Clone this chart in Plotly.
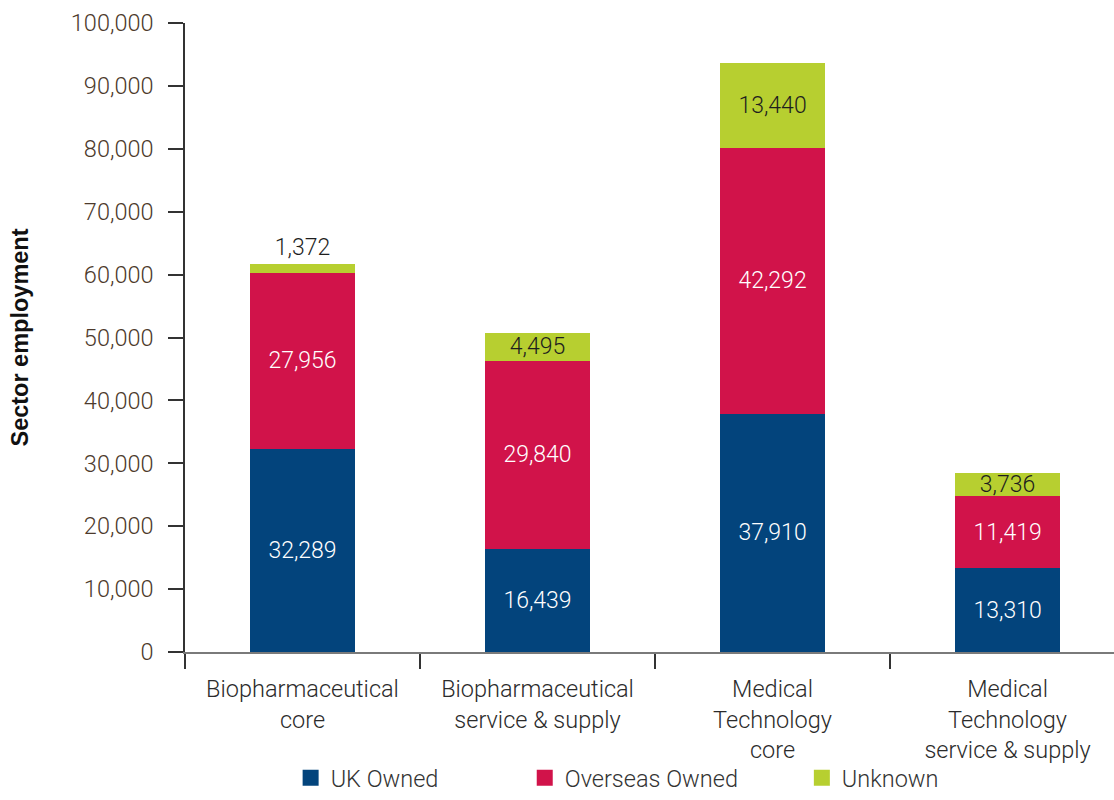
import plotly.graph_objects as go

# Sector employment by ownership
categories = [
    "Biopharmaceutical<br>core",
    "Biopharmaceutical<br>service & supply",
    "Medical<br>Technology<br>core",
    "Medical<br>Technology<br>service & supply",
]
uk_owned = [32289, 16439, 37910, 13310]
overseas_owned = [27956, 29840, 42292, 11419]
unknown = [1372, 4495, 13440, 3736]

series_names = ["UK Owned", "Overseas Owned", "Unknown"]
y_tick_values = [0, 10000, 20000, 30000, 40000, 50000, 60000, 70000, 80000, 90000, 100000]

BLUE = "#03447c"
RED = "#d1134a"
GREEN = "#b7cf30"
FONT = "Roboto"
LABEL_SIZE = 23.5
DATA_SIZE = 23

x_pos = list(range(len(categories)))

fig = go.Figure()


def add_bar(values, name, color, text_color, positions):
    fig.add_trace(go.Bar(
        x=x_pos, y=values, name=name,
        marker=dict(color=color, line=dict(width=0)),
        width=0.45,
        text=values,
        texttemplate="%{y:,}",
        textposition=positions,
        insidetextanchor="middle",
        textfont=dict(family=FONT, size=DATA_SIZE, color=text_color, weight=300),
        outsidetextfont=dict(family=FONT, size=DATA_SIZE, color="#1e1e1e", weight=300),
        cliponaxis=False,
        showlegend=False,
        hoverinfo="skip",
    ))


add_bar(uk_owned, series_names[0], BLUE, "white", "inside")
add_bar(overseas_owned, series_names[1], RED, "white", "inside")
add_bar(unknown, series_names[2], GREEN, "#1e1e1e",
        ["outside", "inside", "inside", "inside"])

# Legend entries, each in its own legend box for placement
legend_x = [0.1137, 0.3657, 0.664]
for i, (name, color) in enumerate(zip(series_names, [BLUE, RED, GREEN])):
    fig.add_trace(go.Scatter(
        x=[None], y=[None], mode="markers", name=name,
        marker=dict(symbol="square", size=16, color=color, line=dict(width=0)),
        legend="legend" if i == 0 else f"legend{i + 1}",
        showlegend=True,
    ))

legend_common = dict(
    orientation="h", yanchor="bottom", xanchor="left",
    yref="container", y=0,
    font=dict(family=FONT, size=LABEL_SIZE, color="#333333", weight=300),
    bgcolor="rgba(0,0,0,0)", borderwidth=0,
)

fig.update_layout(
    barmode="stack",
    width=1114, height=800,
    margin=dict(l=185, r=0, t=23, b=148, autoexpand=False),
    paper_bgcolor="white", plot_bgcolor="white",
    font=dict(family=FONT, size=LABEL_SIZE, color="#333333", weight=300),
    uniformtext=dict(minsize=DATA_SIZE, mode="show"),
    legend=dict(x=legend_x[0], **legend_common),
    legend2=dict(x=legend_x[1], **legend_common),
    legend3=dict(x=legend_x[2], **legend_common),
    xaxis=dict(
        range=[-0.5, 3.453],
        automargin=False,
        tickmode="array", tickvals=x_pos, ticktext=categories,
        ticks="outside", ticklen=15, tickcolor="rgba(0,0,0,0)",
        tickfont=dict(family=FONT, size=LABEL_SIZE, color="#2b2b2b", weight=300),
        showline=True, linecolor="#7a7a7a", linewidth=1.5,
        showgrid=False, zeroline=False,
        minor=dict(tickmode="array", tickvals=[-0.5, 0.5, 1.5, 2.5],
                   ticks="outside", ticklen=15, tickcolor="#333333",
                   tickwidth=1.5, showgrid=False),
    ),
    yaxis=dict(
        range=[0, 100000],
        automargin=False,
        tickmode="array", tickvals=y_tick_values,
        tickformat=",",
        ticks="outside", ticklen=15, tickcolor="#333333", tickwidth=1.5,
        ticklabelstandoff=10,
        tickfont=dict(family=FONT, size=LABEL_SIZE, color="#4d3a2c", weight=300),
        showline=True, linecolor="#333333", linewidth=1.5,
        showgrid=False, zeroline=False,
        title=dict(text="<b>Sector employment</b>",
                   font=dict(family="Liberation Sans", size=23.5, color="#111111"),
                   standoff=36),
    ),
)

fig.write_html("out.html")
